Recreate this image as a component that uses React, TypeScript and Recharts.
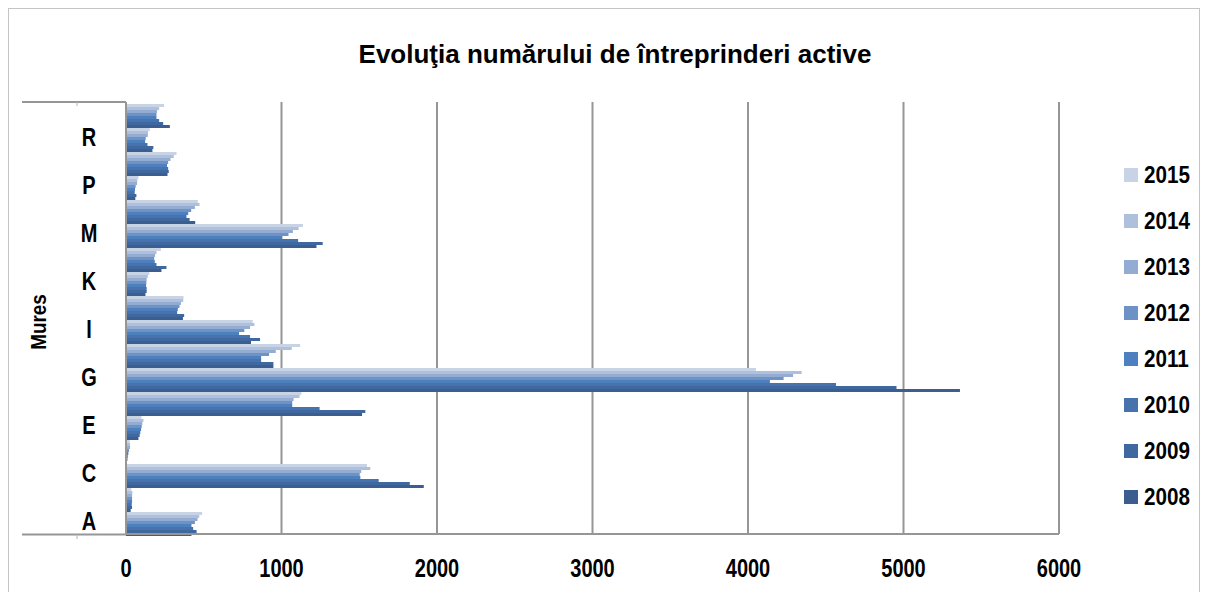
import React from 'react';
import { BarChart, Bar, XAxis, YAxis, CartesianGrid, Legend } from 'recharts';

const categories = ['A', 'B', 'C', 'D', 'E', 'F', 'G', 'H', 'I', 'J', 'K', 'L', 'M', 'N', 'P', 'Q', 'R', 'S'];
const years = ['2015', '2014', '2013', '2012', '2011', '2010', '2009', '2008'];

const v2015 = [490, 34, 1550, 24, 99, 1127, 4051, 1120, 815, 370, 150, 224, 1138, 462, 80, 325, 153, 245];
const v2014 = [471, 41, 1571, 26, 112, 1116, 4345, 1066, 826, 368, 140, 196, 1110, 473, 73, 307, 142, 213];
const v2013 = [460, 39, 1513, 26, 105, 1078, 4290, 963, 798, 353, 133, 187, 1073, 443, 71, 286, 140, 200];
const v2012 = [443, 39, 1503, 19, 101, 1069, 4229, 920, 761, 344, 131, 181, 1045, 419, 62, 271, 127, 196];
const v2011 = [421, 39, 1507, 15, 97, 1069, 4141, 869, 727, 333, 129, 185, 1003, 400, 58, 264, 123, 196];
const v2010 = [432, 37, 1625, 11, 92, 1245, 4566, 869, 798, 329, 133, 196, 1107, 389, 56, 271, 138, 213];
const v2009 = [454, 39, 1825, 9, 88, 1539, 4955, 948, 862, 374, 133, 260, 1265, 409, 67, 275, 176, 239];
const v2008 = [421, 30, 1915, 6, 80, 1518, 5363, 948, 804, 366, 125, 228, 1225, 445, 60, 267, 170, 282];

const seriesValues = [v2015, v2014, v2013, v2012, v2011, v2010, v2009, v2008];
const colors = ['#C9D3E6', '#AFC0DD', '#94ABD2', '#6C92C6', '#4E7FBE', '#4673AE', '#3F67A0', '#3B5E8F'];
const xTicks = [0, 1000, 2000, 3000, 4000, 5000, 6000];

const title = 'Evoluţia numărului de întreprinderi active';
const outerLabel = 'Mures';

const data = categories.map((c, i) => {
  const row: Record<string, any> = { cat: c };
  years.forEach((y, k) => {
    row[y] = seriesValues[k][i];
  });
  return row;
});

const SANS = '"Liberation Sans", Arial, sans-serif';

const YTick = (props: any) => {
  const { y, payload } = props;
  return (
    <text
      transform={`translate(80 ${y}) scale(0.8 1)`}
      x={0}
      y={0}
      textAnchor="middle"
      dominantBaseline="central"
      fontFamily={SANS}
      fontWeight="bold"
      fontSize={25}
      fill="#000"
    >
      {payload.value}
    </text>
  );
};

const XTick = (props: any) => {
  const { x, y, payload } = props;
  return (
    <text
      transform={`translate(${x} ${y}) scale(0.8 1)`}
      x={0}
      y={41}
      textAnchor="middle"
      fontFamily={SANS}
      fontWeight="bold"
      fontSize={25}
      fill="#000"
    >
      {payload.value}
    </text>
  );
};

const renderLegend = (props: any) => {
  const payload = [...(props.payload || [])].sort(
    (a: any, b: any) => years.indexOf(String(a.value)) - years.indexOf(String(b.value))
  );
  return (
    <div>
      {payload.map((it: any) => (
        <div key={it.value} style={{ height: 46, display: 'flex', alignItems: 'center' }}>
          <span style={{ display: 'inline-block', width: 14, height: 14, background: it.color, marginRight: 6 }} />
          <span
            style={{
              display: 'inline-block',
              fontFamily: SANS,
              fontWeight: 'bold',
              fontSize: 24,
              color: '#000',
              lineHeight: '46px',
              transform: 'scale(0.86, 1)',
              transformOrigin: 'left center',
            }}
          >
            {it.value}
          </span>
        </div>
      ))}
    </div>
  );
};

export default function App() {
  return (
    <div style={{ position: 'relative', width: 1192, height: 600, border: '1px solid #c4c4c4', boxSizing: 'border-box', background: '#fff' }}>
      <div
        style={{
          position: 'absolute',
          left: 206,
          width: 800,
          top: 30,
          textAlign: 'center',
          fontFamily: SANS,
          fontWeight: 'bold',
          fontSize: 26,
          lineHeight: '30px',
          color: '#000',
        }}
      >
        {title}
      </div>
      <BarChart
        width={1190}
        height={583}
        data={data}
        layout="vertical"
        margin={{ top: 93, right: 140, left: 0, bottom: 8 }}
        barCategoryGap={2}
        barGap={0}
      >
        <CartesianGrid horizontal={false} stroke="#969696" strokeWidth={2} />
        <XAxis
          type="number"
          domain={[0, 6000]}
          ticks={xTicks}
          axisLine={{ stroke: '#969696', strokeWidth: 2 }}
          tickLine={false}
          tickSize={0}
          height={50}
          tick={<XTick />}
        />
        <YAxis
          type="category"
          dataKey="cat"
          reversed
          width={117}
          interval={1}
          axisLine={{ stroke: '#969696', strokeWidth: 2 }}
          tickLine={false}
          tick={<YTick />}
        />
        <Legend
          layout="vertical"
          align="center"
          verticalAlign="middle"
          content={renderLegend}
          wrapperStyle={{ left: 1115, top: 143, width: 80 }}
        />
        {years.map((y, k) => (
          <Bar key={y} dataKey={y} name={y} fill={colors[k]} legendType="square" isAnimationActive={false} />
        ))}
      </BarChart>
      <svg width={1190} height={583} style={{ position: 'absolute', left: 0, top: 0, pointerEvents: 'none' }}>
        <line x1={13} y1={93} x2={117} y2={93} stroke="#969696" strokeWidth={2} />
        <line x1={13} y1={525.5} x2={117} y2={525.5} stroke="#969696" strokeWidth={2} />
        <line x1={68} y1={93} x2={68} y2={97} stroke="#b4b4b4" strokeWidth={1} />
        <line x1={68} y1={525.5} x2={68} y2={530} stroke="#b4b4b4" strokeWidth={1} />
        <text
          transform="translate(29 313) rotate(-90) scale(0.86 1)"
          x={0}
          y={0}
          textAnchor="middle"
          dominantBaseline="central"
          fontFamily={SANS}
          fontWeight="bold"
          fontSize={22}
          fill="#000"
        >
          {outerLabel}
        </text>
      </svg>
    </div>
  );
}
